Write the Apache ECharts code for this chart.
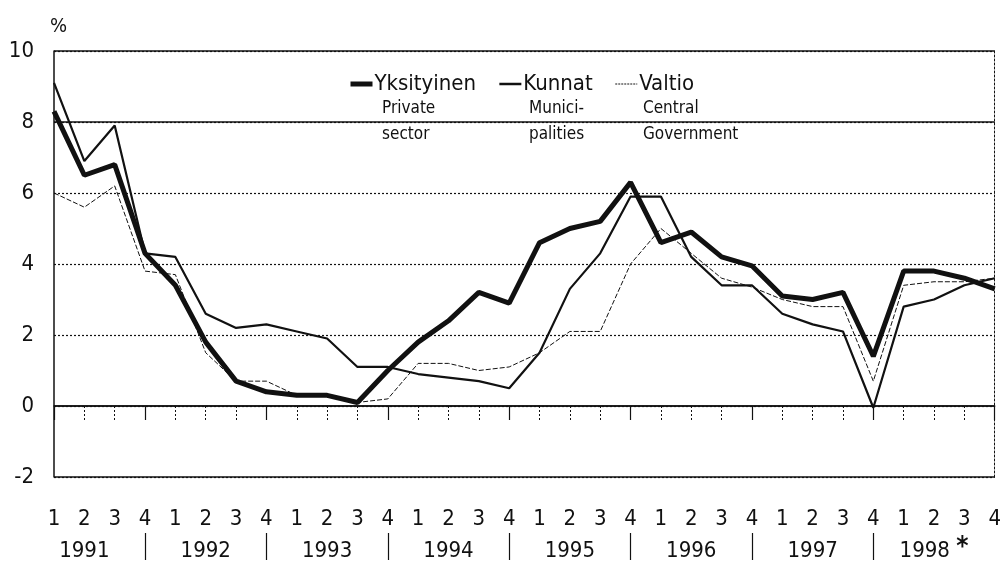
<!DOCTYPE html>
<html>
<head>
<meta charset="utf-8">
<script src="https://cdn.jsdelivr.net/npm/echarts@6/dist/echarts.min.js"></script>
<style>
  html, body { margin: 0; padding: 0; background: #fff; }
  #chart { width: 1004px; height: 567px; }
</style>
</head>
<body>
<div id="chart"></div>
<script>
// quarterly change, %
const quarters = ['1', '2', '3', '4', '1', '2', '3', '4', '1', '2', '3', '4', '1', '2', '3', '4',
  '1', '2', '3', '4', '1', '2', '3', '4', '1', '2', '3', '4', '1', '2', '3', '4']
const years = ['1991', '1992', '1993', '1994', '1995', '1996', '1997', '1998']
const yksityinen = [8.3, 6.5, 6.8, 4.3, 3.4, 1.8, 0.7, 0.4, 0.3, 0.3, 0.1, 1.0, 1.8, 2.4, 3.2, 2.9,
  4.6, 5.0, 5.2, 6.3, 4.6, 4.9, 4.2, 3.95, 3.1, 3.0, 3.2, 1.4, 3.8, 3.8, 3.6, 3.3]
const kunnat = [9.1, 6.9, 7.9, 4.3, 4.2, 2.6, 2.2, 2.3, 2.1, 1.9, 1.1, 1.1, 0.9, 0.8, 0.7, 0.5,
  1.5, 3.3, 4.3, 5.9, 5.9, 4.2, 3.4, 3.4, 2.6, 2.3, 2.1, -0.05, 2.8, 3.0, 3.4, 3.6]
const valtio = [6.0, 5.6, 6.2, 3.8, 3.7, 1.5, 0.7, 0.7, 0.3, 0.3, 0.1, 0.2, 1.2, 1.2, 1.0, 1.1,
  1.5, 2.1, 2.1, 4.0, 5.0, 4.3, 3.6, 3.35, 3.0, 2.8, 2.8, 0.7, 3.4, 3.5, 3.5, 3.6]
const solidLevels = [10, 8, 0, -2]

const font = "'DejaVu Sans Condensed', 'Liberation Sans Narrow', sans-serif"
const ink = '#111'

const chart = echarts.init(document.getElementById('chart'))

chart.setOption({
  animation: false,
  grid: {left: 54, right: 8, top: 51, bottom: 84},
  legend: {
    left: 343,
    top: 68,
    itemWidth: 22,
    itemHeight: 14,
    itemGap: 22,
    itemStyle: {color: 'rgba(0,0,0,0)', borderWidth: 0},
    textStyle: {fontFamily: font, fontSize: 22, color: ink, padding: [0, 0, 0, -3]},
    data: [
      {name: 'Yksityinen', lineStyle: {width: 5, color: ink}},
      {name: 'Kunnat', lineStyle: {width: 2.5, color: ink}},
      {name: 'Valtio', lineStyle: {width: 1, color: ink, type: [2, 1]}}
    ]
  },
  graphic: [
    {type: 'text', left: 382, top: 96, style: {text: 'Private\nsector', font: '17px ' + font, lineHeight: 26, fill: ink}},
    {type: 'text', left: 529, top: 96, style: {text: 'Munici-\npalities', font: '17px ' + font, lineHeight: 26, fill: ink}},
    {type: 'text', left: 643, top: 96, style: {text: 'Central\nGovernment', font: '17px ' + font, lineHeight: 26, fill: ink}}
  ],
  xAxis: [
    {
      type: 'category',
      data: quarters,
      boundaryGap: false,
      axisLine: {show: true, lineStyle: {color: ink, width: 1.5}},
      axisTick: {show: true, interval: 0, length: 14, lineStyle: {color: ink, type: [2, 2]}},
      axisLabel: {interval: 0, margin: 31, fontFamily: font, fontSize: 22, color: ink}
    },
    {
      type: 'category',
      data: quarters,
      boundaryGap: false,
      position: 'bottom',
      axisLine: {show: false},
      axisTick: {
        show: true, length: 14, lineStyle: {color: ink, width: 1.2},
        interval: (i) => i === 0 || i % 4 === 3
      },
      axisLabel: {show: false}
    },
    {
      type: 'category',
      data: quarters,
      boundaryGap: false,
      position: 'bottom',
      offset: 56,
      axisLine: {show: false},
      axisTick: {
        show: true, length: 27, lineStyle: {color: ink, width: 1.2},
        interval: (i) => i % 4 === 3 && i < quarters.length - 1
      },
      axisLabel: {
        interval: 0, margin: 6, fontFamily: font, fontSize: 22, lineHeight: 24, color: ink,
        formatter: (v, i) => {
          if (i % 4 !== 1) return ''
          const y = years[Math.floor(i / 4)]
          return i === quarters.length - 3 ? y + ' {s|*}' : y
        },
        rich: {s: {fontFamily: font, fontSize: 26, fontWeight: 'bold', lineHeight: 24, color: ink, padding: [0, 0, 6, 0]}}
      }
    }
  ],
  yAxis: [
    {
      type: 'value',
      min: -2,
      max: 10,
      interval: 2,
      name: '%',
      nameGap: 14,
      nameTextStyle: {fontFamily: font, fontSize: 20, color: ink, align: 'left', padding: [0, 0, 0, -4]},
      axisLine: {show: true, lineStyle: {color: ink, width: 1.5}},
      axisTick: {show: false},
      axisLabel: {margin: 20, fontFamily: font, fontSize: 22, color: ink},
      splitLine: {show: true, lineStyle: {color: ink, width: 1.2, type: [2, 2]}}
    },
    {
      type: 'value',
      min: -2,
      max: 10,
      interval: 2,
      position: 'right',
      axisLine: {show: true, lineStyle: {color: ink, width: 1, type: [2, 2]}},
      axisTick: {show: false},
      axisLabel: {show: false},
      splitLine: {show: false}
    }
  ],
  series: [
    {
      name: 'Valtio',
      type: 'line',
      data: valtio,
      symbol: 'none',
      lineStyle: {color: ink, width: 1, type: [5, 2]},
      itemStyle: {color: ink},
      markLine: {
        silent: true,
        symbol: 'none',
        label: {show: false},
        lineStyle: {color: ink, width: 1.5, type: 'solid'},
        data: solidLevels.map(v => ({yAxis: v}))
      }
    },
    {
      name: 'Kunnat',
      type: 'line',
      data: kunnat,
      symbol: 'none',
      lineStyle: {color: ink, width: 2.2},
      itemStyle: {color: ink}
    },
    {
      name: 'Yksityinen',
      type: 'line',
      data: yksityinen,
      symbol: 'none',
      lineStyle: {color: ink, width: 5},
      itemStyle: {color: ink}
    }
  ]
})
</script>
</body>
</html>
